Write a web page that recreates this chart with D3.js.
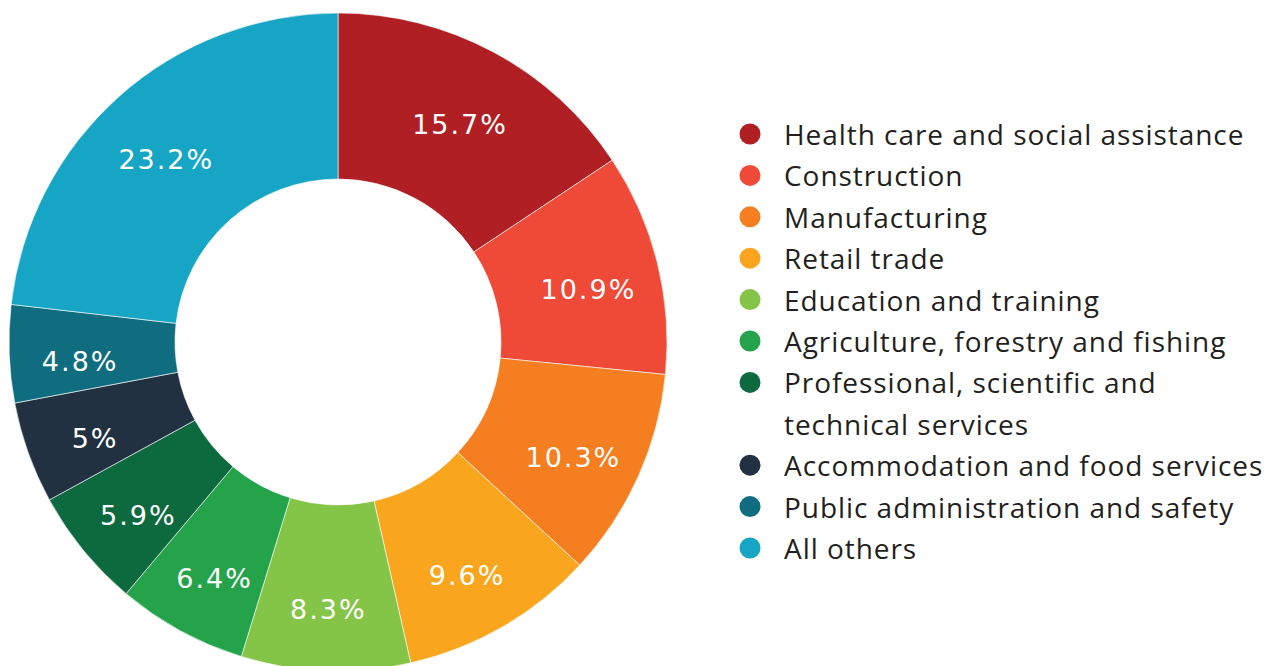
<!DOCTYPE html>
<html>
<head>
<meta charset="utf-8">
<script src="https://cdn.jsdelivr.net/npm/d3@7"></script>
<style>
  html, body { margin: 0; padding: 0; background: #ffffff; }
  svg { display: block; }
</style>
</head>
<body>
<svg id="chart" width="1274" height="666"></svg>
<script>
// Industry share of employment, per cent
const categories = [
  "Health care and social assistance",
  "Construction",
  "Manufacturing",
  "Retail trade",
  "Education and training",
  "Agriculture, forestry and fishing",
  "Professional, scientific and technical services",
  "Accommodation and food services",
  "Public administration and safety",
  "All others"
];
const shares = [15.7, 10.9, 10.3, 9.6, 8.3, 6.4, 5.9, 5, 4.8, 23.2];
const valueLabels = ["15.7%", "10.9%", "10.3%", "9.6%", "8.3%", "6.4%", "5.9%", "5%", "4.8%", "23.2%"];
// Legend lines (the professional services entry wraps onto two lines)
const legendLines = [
  ["Health care and social assistance"],
  ["Construction"],
  ["Manufacturing"],
  ["Retail trade"],
  ["Education and training"],
  ["Agriculture, forestry and fishing"],
  ["Professional, scientific and", "technical services"],
  ["Accommodation and food services"],
  ["Public administration and safety"],
  ["All others"]
];
const palette = ["#B01F24", "#EF4938", "#F47E20", "#F9A61E", "#84C446",
                 "#24A34A", "#0D6A3F", "#213142", "#0F6D7F", "#16A5C5"];

const svg = d3.select("#chart");
const cx = 338, cy = 342, outerR = 329, innerR = 163;

const color = d3.scaleOrdinal().domain(categories).range(palette);

const data = categories.map((c, i) => ({ category: c, value: shares[i], label: valueLabels[i] }));

const pie = d3.pie().value(d => d.value).sort(null);
const arc = d3.arc().innerRadius(innerR).outerRadius(outerR);
const labelArc = d3.arc().innerRadius(258).outerRadius(258);

const g = svg.append("g").attr("transform", `translate(${cx},${cy})`);
const arcs = pie(data);

g.selectAll("path.slice")
  .data(arcs)
  .join("path")
  .attr("class", "slice")
  .attr("d", arc)
  .attr("fill", d => color(d.data.category))
  .attr("stroke", "#ffffff")
  .attr("stroke-width", 0.6);

// Value labels sit just below their slice's mid-angle point
g.selectAll("text.value")
  .data(arcs)
  .join("text")
  .attr("class", "value")
  .attr("transform", d => {
    const [x, y] = labelArc.centroid(d);
    return `translate(${x},${y + 10})`;
  })
  .attr("text-anchor", "middle")
  .attr("dominant-baseline", "central")
  .attr("fill", "#ffffff")
  .style("font-family", "'DejaVu Sans', sans-serif")
  .style("font-size", "27px")
  .style("letter-spacing", "2px")
  .text(d => d.data.label);

// Legend
const legend = svg.append("g").attr("transform", "translate(750,134)");
const rowStep = 41.4;
let row = 0;
categories.forEach((c, i) => {
  const y = row * rowStep;
  legend.append("circle")
    .attr("cx", 0).attr("cy", y).attr("r", 10.5)
    .attr("fill", color(c));
  legendLines[i].forEach((line, j) => {
    legend.append("text")
      .attr("x", 34).attr("y", (row + j) * rowStep)
      .attr("dominant-baseline", "central")
      .attr("fill", "#231F20")
      .style("font-family", "'Open Sans', sans-serif")
      .style("font-size", "28px")
      .style("letter-spacing", "0.95px")
      .text(line);
  });
  row += legendLines[i].length;
});
</script>
</body>
</html>
